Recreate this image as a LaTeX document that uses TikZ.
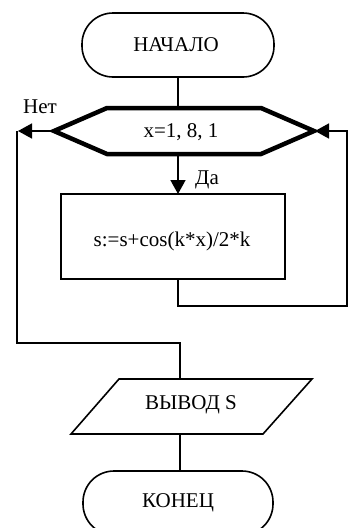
\documentclass[tikz,border=0pt]{standalone}
\usepackage{fontspec}
\setmainfont{Liberation Serif}
\usetikzlibrary{arrows.meta,calc}
\begin{document}
\begin{tikzpicture}[x=1pt,y=-1pt,line width=1.6pt,line join=miter,
  font=\fontsize{21}{25}\selectfont,
  txt/.style={inner sep=0pt, anchor=center},
  thick hex/.style={line width=4.5pt, line join=miter},
  arr/.style={-{Triangle[length=14pt,width=15pt]}}]
\useasboundingbox (0,0) rectangle (352,528);
\clip (0,0) rectangle (352,528);
% start terminal
\draw[rounded corners=31pt] (82,13) rectangle (274,77);
\node[txt] (start) at (176,45) {НАЧАЛО};
\coordinate (startB) at (178,77);
% hexagon (loop)
\coordinate (hexT) at (178,108);
\coordinate (hexL) at (54,131);
\coordinate (hexR) at (314,131);
\coordinate (hexB) at (178,154);
\draw[thick hex] (hexL) -- (107,108) -- (261,108) -- (hexR) -- (261,154) -- (107,154) -- cycle;
\node[txt] (loop) at (181,132) {x=1, 8, 1};
\draw (startB) -- (hexT);
% process
\draw (61,194) rectangle (285,279);
\node[txt] (proc) at (172,241) {s:=s+cos(k*x)/2*k};
\coordinate (procT) at (178,194);
\coordinate (procB) at (178,279);
\draw[arr] (hexB) -- (procT);
\node[txt] (yes) at (207,180) {Да};
% loop back
\coordinate (r1) at (178,306);
\coordinate (r2) at (347,306);
\coordinate (r3) at (347,131);
\draw[arr] (procB) -- (r1) -- (r2) -- (r3) -- ([xshift=1pt]hexR);
% exit
\coordinate (l0) at (18,131);
\coordinate (l1) at (17,131);
\coordinate (l2) at (17,343);
\coordinate (l3) at (180,343);
\draw[arr] ([xshift=-1pt]hexL) -- (l0);
\node[txt] (no) at (40,107) {Нет};
% output
\coordinate (outT) at (180,379);
\coordinate (outB) at (180,434);
\draw (119,379) -- (312,379) -- (263,434) -- (71,434) -- cycle;
\node[txt] (out) at (191,405) {ВЫВОД S};
\draw (l1) -- (l2) -- (l3) -- (outT);
% end terminal
\coordinate (endT) at (180,471);
\draw (outB) -- (endT);
\draw[rounded corners=31pt] (83,471) rectangle (273,535);
\node[txt] (end) at (178,503) {КОНЕЦ};
\end{tikzpicture}
\end{document}
